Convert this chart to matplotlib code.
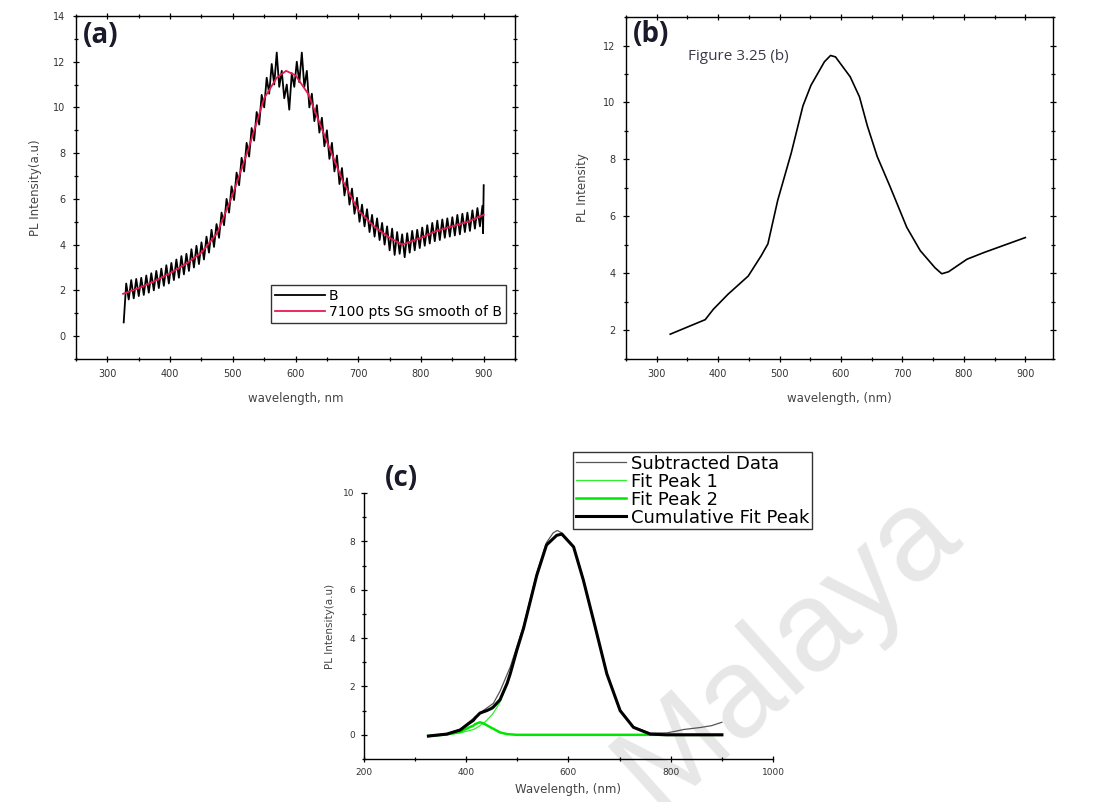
import numpy as np
import matplotlib
matplotlib.use("Agg")
import matplotlib.pyplot as plt
from matplotlib.ticker import MultipleLocator

plt.rcParams['font.family'] = ['DejaVu Sans']

# (a) raw PL spectrum B and its Savitzky-Golay smooth
b_wl = np.concatenate([np.arange(326, 899, 4), [899, 900]])
b_pl = [0.6, 2.3, 1.6, 2.45, 1.65, 2.5, 1.75, 2.55, 1.8, 2.65,
        1.9, 2.75, 2.0, 2.85, 2.1, 2.95, 2.2, 3.1, 2.3, 3.2,
        2.45, 3.35, 2.55, 3.5, 2.7, 3.6, 2.85, 3.8, 3.0, 3.95,
        3.15, 4.1, 3.35, 4.35, 3.65, 4.65, 3.9, 4.9, 4.3, 5.4,
        4.85, 6.0, 5.4, 6.55, 5.95, 7.15, 6.6, 7.8, 7.2, 8.45,
        7.85, 9.1, 8.55, 9.8, 9.25, 10.55, 10.0, 11.3, 10.6, 11.9,
        11.0, 12.4, 10.9, 11.6, 10.4, 11.0, 9.9, 11.5, 10.9, 12.0,
        11.1, 12.4, 10.9, 11.6, 10.0, 10.6, 9.4, 10.1, 8.9, 9.55,
        8.3, 9.0, 7.75, 8.45, 7.2, 7.9, 6.65, 7.35, 6.15, 6.9,
        5.75, 6.45, 5.35, 6.05, 5.0, 5.75, 4.8, 5.55, 4.55, 5.3,
        4.35, 5.15, 4.2, 4.95, 4.0, 4.8, 3.75, 4.7, 3.55, 4.55,
        3.6, 4.45, 3.45, 4.5, 3.65, 4.6, 3.75, 4.65, 3.85, 4.75,
        3.95, 4.85, 4.05, 4.95, 4.15, 5.05, 4.2, 5.1, 4.3, 5.15,
        4.35, 5.2, 4.4, 5.3, 4.45, 5.35, 4.55, 5.4, 4.6, 5.5,
        4.7, 5.6, 4.8, 5.7,
        4.5, 6.6]

sg_wl = [325, 350, 375, 400, 425, 450, 475, 500, 525, 550, 570, 585, 600,
         620, 650, 675, 700, 725, 750, 770, 800, 825, 850, 875, 900]
sg_pl = [1.85, 2.1, 2.4, 2.75, 3.15, 3.65, 4.5, 6.2, 8.2, 10.4, 11.3, 11.6, 11.4,
         10.6, 8.5, 6.8, 5.5, 4.8, 4.3, 4.0, 4.3, 4.6, 4.8, 5.0, 5.3]

# (b) smoothed spectrum
sm_wl = [322, 379, 392, 416, 449, 470, 481, 497, 519, 538, 551, 573, 583, 591,
         615, 630, 643, 659, 680, 707, 729, 753, 764, 775, 805, 832, 864, 900]
sm_pl = [1.87, 2.38, 2.74, 3.27, 3.91, 4.62, 5.04, 6.57, 8.23, 9.88, 10.6, 11.43,
         11.65, 11.6, 10.9, 10.2, 9.17, 8.1, 7.04, 5.62, 4.8, 4.2, 3.99, 4.06,
         4.5, 4.73, 4.98, 5.26]

# (c) peak fitting of background-subtracted spectrum
sub_wl = [326, 362, 388, 414, 433, 453, 466, 486, 512, 538, 557, 570, 578, 587,
          610, 629, 649, 675, 701, 727, 760, 792, 810, 825, 857, 880, 900]
sub_pl = [-0.05, 0.05, 0.22, 0.68, 1.0, 1.3, 1.8, 2.8, 4.5, 6.7, 7.95, 8.35, 8.45,
          8.35, 7.8, 6.45, 4.75, 2.55, 1.02, 0.33, 0.07, 0.08, 0.15, 0.22, 0.3,
          0.38, 0.52]

fit_wl = [326, 362, 388, 405, 414, 418, 427, 436, 440, 450, 453, 466, 480, 486,
          499, 512, 538, 557, 577, 587, 610, 629, 649, 675, 701, 727, 760, 792, 900]
peak1 = [-0.05, 0.0, 0.08, 0.17, 0.22, 0.26, 0.38, 0.52, 0.6, 0.82, 0.9, 1.35,
         2.1, 2.5, 3.5, 4.4, 6.6, 7.85, 8.25, 8.3, 7.77, 6.4, 4.73, 2.52, 1.0,
         0.31, 0.03, 0.0, 0.0]
peak2 = [-0.05, 0.02, 0.12, 0.3, 0.38, 0.45, 0.52, 0.45, 0.4, 0.28, 0.25, 0.1,
         0.03, 0.02, 0.0, 0.0, 0.0, 0.0, 0.0, 0.0, 0.0, 0.0, 0.0, 0.0, 0.0,
         0.0, 0.0, 0.0, 0.0]
cumul = [-0.05, 0.03, 0.2, 0.47, 0.6, 0.71, 0.9, 0.97, 1.0, 1.1, 1.15, 1.45,
         2.13, 2.52, 3.5, 4.4, 6.6, 7.85, 8.25, 8.3, 7.77, 6.4, 4.73, 2.52, 1.0,
         0.31, 0.03, 0.0, 0.0]

fig = plt.figure(figsize=(10.94, 8.02), dpi=100)

# watermark behind everything
fig.text(0.72, 0.19, 'Malaya', rotation=42, fontsize=92, color='#e7e7e7',
         family='Liberation Sans', ha='center', va='center', zorder=-1)

tick_col = '#333333'
lab_col = '#444444'


def style_axes(ax, box=True):
    ax.set_facecolor('none')
    for s in ax.spines.values():
        s.set_linewidth(1.0)
    if not box:
        ax.spines['top'].set_visible(False)
        ax.spines['right'].set_visible(False)
    ax.tick_params(which='both', direction='inout', top=box, right=box,
                   labelsize=7, labelcolor=tick_col, width=0.9, pad=5)
    ax.tick_params(which='major', length=5)
    ax.tick_params(which='minor', length=3)


# panel (a)
ax1 = fig.add_axes([0.0695, 0.5524, 0.4013, 0.4277])
ax1.plot(b_wl, b_pl, color='black', lw=1.3, label='B')
ax1.plot(sg_wl, sg_pl, color='#e8194f', lw=1.3, label='7100 pts SG smooth of B')
ax1.set_xlim(250, 950)
ax1.set_ylim(-1, 14)
ax1.xaxis.set_major_locator(MultipleLocator(100))
ax1.xaxis.set_minor_locator(MultipleLocator(50))
ax1.yaxis.set_major_locator(MultipleLocator(2))
ax1.yaxis.set_minor_locator(MultipleLocator(1))
style_axes(ax1)
ax1.set_xlabel('wavelength, nm', fontsize=8.5, color=lab_col, labelpad=9)
ax1.set_ylabel('PL Intensity(a.u)', fontsize=8.5, color=lab_col, labelpad=8)
leg = ax1.legend(loc='lower right', bbox_to_anchor=(0.98, 0.105), fontsize=10,
                 frameon=True, fancybox=False, edgecolor='black',
                 handlelength=3.6, handletextpad=0.3, borderpad=0.3,
                 labelspacing=0.15, borderaxespad=0)
leg.get_frame().set_linewidth(1.0)
ax1.text(0.015, 0.985, '(a)', transform=ax1.transAxes, fontsize=20,
         fontweight='bold', family='Open Sans', color='#1a1a2a',
         ha='left', va='top')

# panel (b)
ax2 = fig.add_axes([0.5722, 0.5524, 0.3903, 0.4264])
ax2.plot(sm_wl, sm_pl, color='black', lw=1.2)
ax2.set_xlim(250, 945)
ax2.set_ylim(1, 13)
ax2.xaxis.set_major_locator(MultipleLocator(100))
ax2.xaxis.set_minor_locator(MultipleLocator(50))
ax2.yaxis.set_major_locator(MultipleLocator(2))
ax2.yaxis.set_minor_locator(MultipleLocator(1))
style_axes(ax2)
ax2.set_xlabel('wavelength, (nm)', fontsize=8.5, color=lab_col, labelpad=9)
ax2.set_ylabel('PL Intensity', fontsize=8.5, color=lab_col, labelpad=10)
ax2.text(0.015, 0.99, '(b)', transform=ax2.transAxes, fontsize=20,
         fontweight='bold', family='Open Sans', color='#1a1a2a',
         ha='left', va='top')
ax2.text(0.145, 0.885, 'Figure 3.25 (b)', transform=ax2.transAxes,
         fontsize=11, family='Open Sans', color='#3a3a4a', ha='left', va='center')

# panel (c)
ax3 = fig.add_axes([0.3327, 0.0536, 0.3739, 0.3317])
ax3.plot(sub_wl, sub_pl, color='#555555', lw=0.9, label='Subtracted Data')
ax3.plot(fit_wl, peak1, color='#2ef02e', lw=0.9, label='Fit Peak 1')
ax3.plot(fit_wl, peak2, color='#00e600', lw=1.8, label='Fit Peak 2')
ax3.plot(fit_wl, cumul, color='black', lw=2.2, label='Cumulative Fit Peak')
ax3.set_xlim(200, 1000)
ax3.set_ylim(-1, 10)
ax3.xaxis.set_major_locator(MultipleLocator(200))
ax3.xaxis.set_minor_locator(MultipleLocator(100))
ax3.yaxis.set_major_locator(MultipleLocator(2))
ax3.yaxis.set_minor_locator(MultipleLocator(1))
style_axes(ax3, box=False)
ax3.tick_params(labelsize=6.5, pad=4)
ax3.set_xlabel('Wavelength, (nm)', fontsize=8.5, color=lab_col, labelpad=4)
ax3.set_ylabel('PL Intensity(a.u)', fontsize=7.5, color=lab_col, labelpad=6)
ax3.text(0.05, 1.0, '(c)', transform=ax3.transAxes, fontsize=20,
         fontweight='bold', family='Open Sans', color='#1a1a2a',
         ha='left', va='bottom')

h, l = ax3.get_legend_handles_labels()
leg3 = fig.legend(h, l, loc='upper left', bbox_to_anchor=(573 / 1094, 1 - 452 / 802),
                  fontsize=13, frameon=True, fancybox=False, edgecolor='black',
                  handlelength=2.8, handletextpad=0.25, borderpad=0.15,
                  labelspacing=0.0, borderaxespad=0)
leg3.get_frame().set_linewidth(1.0)

fig.savefig('out.png', dpi=100)
